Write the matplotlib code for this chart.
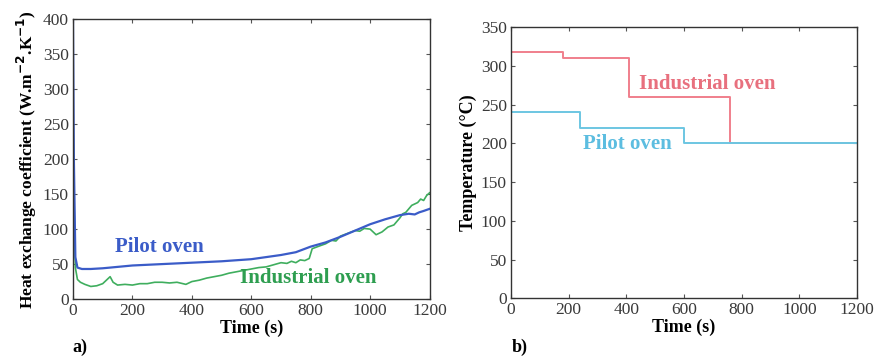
import matplotlib
matplotlib.use("Agg")
import matplotlib.pyplot as plt

plt.rcParams['font.family'] = ['Liberation Serif', 'DejaVu Serif']

# a) heat exchange coefficient
pilot_t = [0, 3, 8, 15, 30, 60, 100, 150, 200, 300, 400, 500, 600, 650, 700, 750,
           800, 850, 900, 950, 1000, 1050, 1100, 1130, 1150, 1165, 1180, 1200]
pilot_h = [400, 200, 60, 45, 43, 43, 44, 46, 48, 50, 52, 54, 57, 60, 63, 67,
           75, 81, 89, 98, 107, 114, 120, 122, 121, 124, 126, 129]

ind_t = [0, 3, 8, 15, 25, 40, 60, 80, 100, 115, 125, 135, 150, 175, 200, 225, 250,
         275, 300, 325, 350, 380, 400, 425, 450, 475, 500, 525, 550, 575, 600, 625,
         650, 675, 700, 720, 735, 750, 765, 780, 795, 805, 830, 850, 870, 885, 900,
         925, 950, 965, 980, 1000, 1020, 1040, 1060, 1080, 1100, 1110, 1120, 1130,
         1140, 1150, 1160, 1170, 1180, 1190, 1200]
ind_h = [260, 150, 45, 28, 24, 21, 18, 19, 22, 28, 32, 24, 20, 21, 20, 22, 22,
         24, 24, 23, 24, 21, 25, 27, 30, 32, 34, 37, 39, 41, 43, 45,
         46, 49, 52, 51, 54, 52, 56, 55, 58, 72, 76, 79, 84, 83, 90,
         94, 98, 97, 101, 100, 92, 96, 103, 106, 116, 122, 124, 129,
         134, 136, 138, 143, 141, 148, 152]

# b) oven temperature set points (step profiles)
ind_step_t = [0, 181, 410, 760, 1200]
ind_step_T = [318, 310, 260, 200, 200]
pilot_step_t = [0, 239, 601, 1200]
pilot_step_T = [240, 220, 200, 200]

x_ticks = [0, 200, 400, 600, 800, 1000, 1200]

tick_col = '#3a3a3a'
fig = plt.figure(figsize=(8.74, 3.59), dpi=100)


def style(ax):
    ax.tick_params(direction='in', top=True, right=True, length=3, width=0.8,
                   labelsize=12.5, labelcolor=tick_col, colors='#555555', pad=3)
    for s in ax.spines.values():
        s.set_color('#333333')
        s.set_linewidth(1.0)
    ax.set_xlabel('Time (s)', fontsize=13, fontweight='bold', labelpad=0)


ax1 = fig.add_axes([0.0835, 0.167, 0.408, 0.779])
ax1.plot(ind_t, ind_h, color='#3fae5e', lw=1.2)
ax1.plot(pilot_t, pilot_h, color='#3b5cc8', lw=1.6)
ax1.set_xlim(0, 1200)
ax1.set_ylim(0, 400)
ax1.set_xticks(x_ticks)
ax1.set_yticks(range(0, 401, 50))
style(ax1)
ax1.set_ylabel('Heat exchange coefficient (W.m$^{\\mathbf{-2}}$.K$^{\\mathbf{-1}}$)',
               fontsize=12.5, fontweight='bold', labelpad=3)
ax1.text(142, 75, 'Pilot oven', color='#3b5cc8', fontsize=15, fontweight='bold',
         ha='left', va='center')
ax1.text(563, 30, 'Industrial oven', color='#2e9e50', fontsize=15, fontweight='bold',
         ha='left', va='center')
fig.text(0.083, 0.02, 'a)', fontsize=13, fontweight='bold')

ax2 = fig.add_axes([0.5847, 0.169, 0.396, 0.755])
ax2.step(ind_step_t, ind_step_T, where='post', color='#f07f8c', lw=1.4)
ax2.step(pilot_step_t, pilot_step_T, where='post', color='#6cc6e2', lw=1.4)
ax2.set_xlim(0, 1200)
ax2.set_ylim(0, 350)
ax2.set_xticks(x_ticks)
ax2.set_yticks(range(0, 351, 50))
style(ax2)
ax2.set_ylabel('Temperature (°C)', fontsize=13, fontweight='bold', labelpad=3)
ax2.text(444, 277, 'Industrial oven', color='#e8707e', fontsize=15, fontweight='bold',
         ha='left', va='center')
ax2.text(251, 199, 'Pilot oven', color='#5cbde0', fontsize=15, fontweight='bold',
         ha='left', va='center')
fig.text(0.585, 0.02, 'b)', fontsize=13, fontweight='bold')

fig.savefig('out.png', dpi=100)
